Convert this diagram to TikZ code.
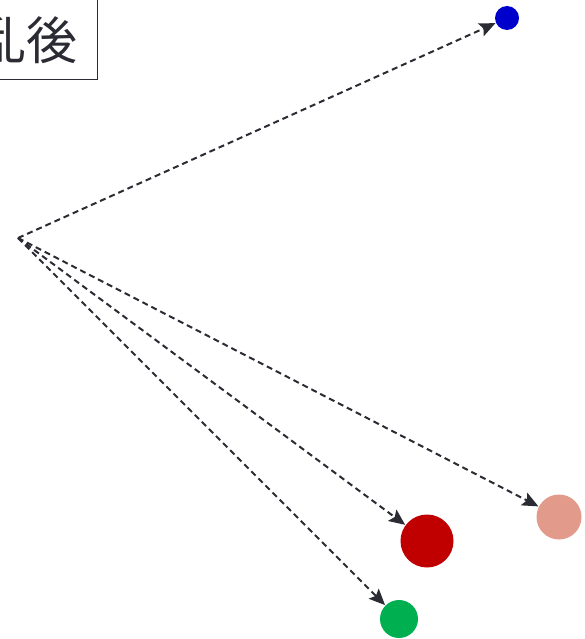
\documentclass[tikz,border=0pt]{standalone}
\usepackage{fontspec}
\newfontfamily\cjk{Noto Sans CJK JP}
\usetikzlibrary{arrows.meta}
\definecolor{linec}{HTML}{2B2B33}
\definecolor{cblue}{HTML}{0000CC}
\definecolor{cpink}{HTML}{E29A8A}
\definecolor{cred}{HTML}{C00000}
\definecolor{cgreen}{HTML}{00B050}
\tikzset{
  dot/.style={circle, inner sep=0pt, minimum size=#1, draw=none},
  conn/.style={draw=linec, line width=2pt, dash pattern=on 6pt off 4pt, -{Stealth[length=16pt, width=14pt, inset=3pt]}, shorten >=0.5pt},
  labelbox/.style={draw=linec, line width=1pt, fill=white}
}
\begin{document}
\begin{tikzpicture}[x=1pt, y=-1pt]
\useasboundingbox (0,0) rectangle (585,639);
\clip (0,0) rectangle (585,639);
\draw[labelbox] (-120,-20) rectangle (97,80);
\node[anchor=east, inner sep=0pt, font=\cjk\fontsize{51pt}{56pt}\selectfont, text=linec] (lbl) at (78,40) {乱後};
\coordinate (o) at (18,238);
\node[dot=24pt, fill=cblue] (b) at (507,18) {};
\node[dot=45pt, fill=cpink] (p) at (559,517) {};
\node[dot=53pt, fill=cred] (r) at (427,541) {};
\node[dot=38pt, fill=cgreen] (g) at (399,619) {};
\draw[conn] (o) -- (b);
\draw[conn] (o) -- (p);
\draw[conn] (o) -- (r);
\draw[conn] (o) -- (g);
\end{tikzpicture}
\end{document}
